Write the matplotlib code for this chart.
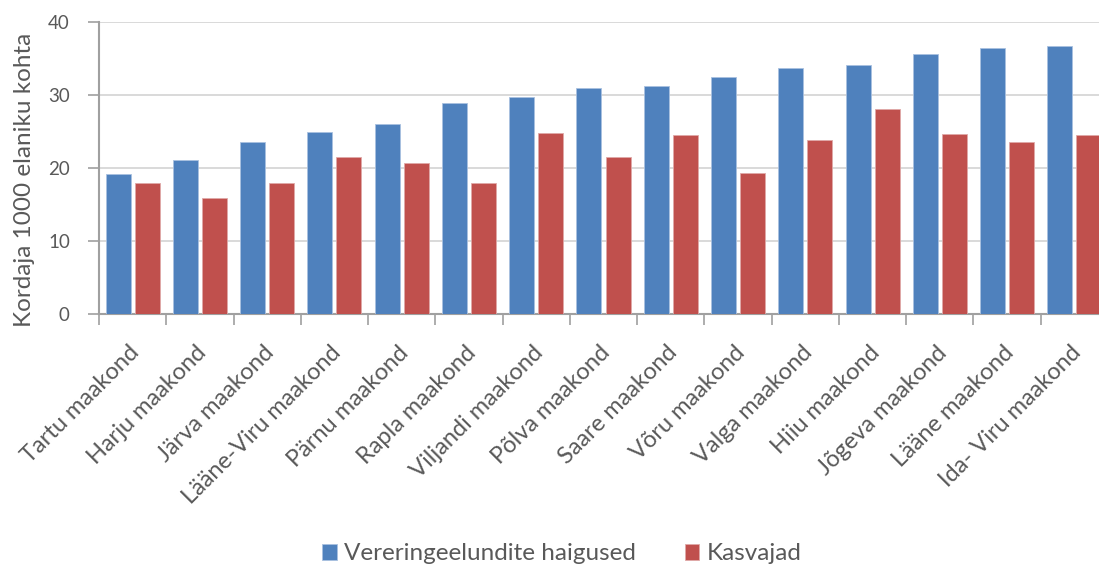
import matplotlib
matplotlib.use("Agg")
import matplotlib.pyplot as plt
import numpy as np
from matplotlib.transforms import ScaledTranslation

categories = ["Tartu maakond", "Harju maakond", "Järva maakond", "Lääne-Viru maakond",
              "Pärnu maakond", "Rapla maakond", "Viljandi maakond", "Põlva maakond",
              "Saare maakond", "Võru maakond", "Valga maakond", "Hiiu maakond",
              "Jõgeva maakond", "Lääne maakond", "Ida- Viru maakond"]
vereringe = [19.2, 21.05, 23.55, 24.9, 26.05, 28.9, 29.7, 31.0, 31.2, 32.45, 33.65, 34.1, 35.65, 36.45, 36.65]
kasvajad = [17.9, 15.9, 17.95, 21.45, 20.75, 17.9, 24.8, 21.5, 24.5, 19.35, 23.8, 28.05, 24.6, 23.55, 24.5]
series_names = ["Vereringeelundite haigused", "Kasvajad"]
yticks = [0, 10, 20, 30, 40]
ylabel = "Kordaja 1000 elaniku kohta"

BLUE = "#4F81BD"
RED = "#C0504D"
TXT = "#595959"
AX = "#A0A0A0"
GRID = "#D9D9D9"

plt.rcParams['font.family'] = ['Lato', 'DejaVu Sans']

W, H = 1099, 567
fig = plt.figure(figsize=(W / 100, H / 100), dpi=100)
ax = fig.add_axes([99 / W, 1 - 314.3 / H, (1108 - 99) / W, (314.3 - 21.7) / H])

x = np.arange(len(categories))
bw = 0.372
off = 0.216
ax.bar(x - off, vereringe, bw, color=BLUE, edgecolor="#A9C1E0", linewidth=0.6,
       label=series_names[0], zorder=3)
ax.bar(x + off, kasvajad, bw, color=RED, edgecolor="#E0A9A8", linewidth=0.6,
       label=series_names[1], zorder=3)

ax.set_xlim(-0.5, len(categories) - 0.5)
ax.set_ylim(0, 40)
ax.set_yticks(yticks)
ax.yaxis.grid(True, color=GRID, linewidth=1.4, zorder=0)
ax.set_axisbelow(True)

for s in ["top", "right"]:
    ax.spines[s].set_visible(False)
for s in ["left", "bottom"]:
    ax.spines[s].set_color(AX)
    ax.spines[s].set_linewidth(1.5)

ax.tick_params(axis="y", direction="out", length=8, width=1.2, color=AX,
               labelcolor=TXT, labelsize=13.5, pad=13)

ax.set_xticks(x)
ax.set_xticks(np.arange(-0.5, len(categories) + 0.5, 1), minor=True)
ax.tick_params(axis="x", which="major", length=0, pad=20, labelcolor=TXT, labelsize=17)
ax.tick_params(axis="x", which="minor", direction="out", length=8, width=1.2, color=AX)
ax.set_xticklabels(categories, rotation=45, ha="right", va="top", rotation_mode="anchor")
dx = ScaledTranslation(-4 / 100, 0, fig.dpi_scale_trans)
for lab in ax.get_xticklabels():
    lab.set_transform(lab.get_transform() + dx)

fig.text(25 / W, 1 - 180 / H, ylabel, rotation=90, ha="center", va="center",
         color=TXT, fontsize=17.5)

fig.legend(loc="center", bbox_to_anchor=(562 / W, 1 - 554 / H), ncol=2, frameon=False,
           fontsize=17.5, labelcolor=TXT, handlelength=0.6, handleheight=0.6,
           handletextpad=0.3, columnspacing=2.0)

fig.savefig("out.png", dpi=100)
